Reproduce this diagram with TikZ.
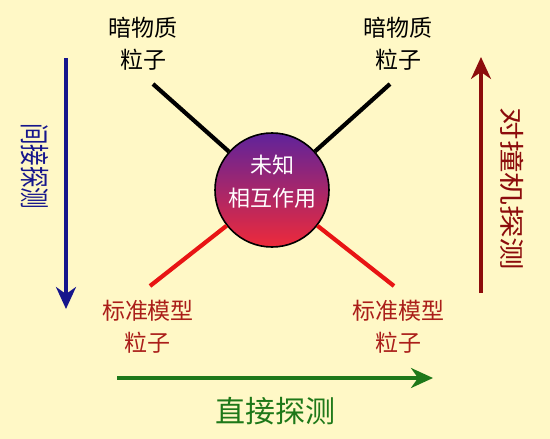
\documentclass[tikz,border=0pt]{standalone}
\usepackage{graphicx}
\usepackage{fontspec}
\newfontfamily\cjk{Noto Sans CJK SC}
\usetikzlibrary{arrows.meta}
\definecolor{bgc}{RGB}{255,248,198}
\definecolor{navyc}{RGB}{22,22,140}
\definecolor{darkredc}{RGB}{140,12,12}
\definecolor{greenc}{RGB}{30,120,25}
\definecolor{labred}{RGB}{170,30,25}
\definecolor{linered}{RGB}{232,20,20}
\definecolor{topc}{RGB}{95,35,155}
\definecolor{botc}{RGB}{238,42,58}
\begin{document}
\begin{tikzpicture}[x=1pt,y=-1pt,
  lab/.style={font=\cjk\fontsize{23}{32}\selectfont, align=center, inner sep=0pt},
  side/.style={font=\cjk\fontsize{24}{28}\selectfont, inner sep=0pt, rotate=-90},
  leg/.style={line width=4.2pt},
  bigarrow/.style={line width=3.2pt, -{Stealth[length=22pt,width=20pt,inset=7pt]}}]
\fill[bgc] (0,0) rectangle (550,439);
\useasboundingbox (0,0) rectangle (550,439);
% circle
\node[circle, minimum size=114pt, draw=black, line width=1.6pt, top color=topc, bottom color=botc, inner sep=0pt] (c) at (272,190) {};
\node[font=\cjk\fontsize{22}{33}\selectfont, text=white, align=center, inner sep=0pt] (ct) at (272,182) {未知\\相互作用};
% labels
\node[lab] (tl) at (143,44) {暗物质\\粒子};
\node[lab] (tr) at (398,44) {暗物质\\粒子};
\node[lab, text=labred] (bl) at (148,327) {标准模型\\粒子};
\node[lab, text=labred] (br) at (398,327) {标准模型\\粒子};
% leg ends
\coordinate (ltl) at (153,84);
\coordinate (ltr) at (390,84);
\coordinate (lbl) at (150,286);
\coordinate (lbr) at (394,286);
\draw[leg, black] (ltl) -- (c);
\draw[leg, black] (ltr) -- (c);
\draw[leg, linered] (lbl) -- (c);
\draw[leg, linered] (lbr) -- (c);
% big arrows
\coordinate (bs) at (66,58);
\coordinate (be) at (66,309);
\coordinate (rs) at (481,293);
\coordinate (re) at (481,57);
\coordinate (gs) at (117,378);
\coordinate (ge) at (433,378);
\draw[bigarrow, navyc] (bs) -- (be);
\draw[bigarrow, darkredc] (rs) -- (re);
\draw[bigarrow, greenc] (gs) -- (ge);
% axis texts
\node[side, text=navyc, font=\cjk\fontsize{25}{28}\selectfont] (lt) at (35,166) {\scalebox{0.86}[1.2]{间接探测}};
\node[side, text=darkredc] (rt) at (512,189) {\scalebox{1.36}[1.05]{对撞机探测}};
\node[font=\cjk\fontsize{30}{34}\selectfont, text=greenc, inner sep=0pt] (gt) at (275,411) {直接探测};
\end{tikzpicture}
\end{document}
